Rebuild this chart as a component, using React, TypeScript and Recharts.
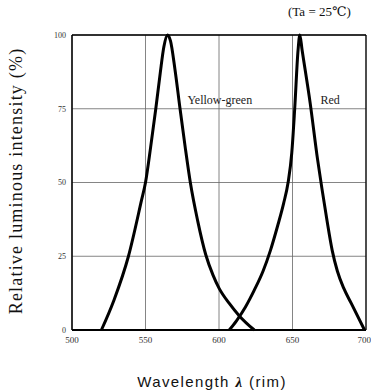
import React from "react";
import {
  LineChart,
  Line,
  XAxis,
  YAxis,
  CartesianGrid,
  ReferenceLine,
  ReferenceDot,
} from "recharts";

// Yellow-green emission curve (wavelength nm, relative intensity %)
const YG_WAVE = [520, 528.6, 538.4, 547.3, 550, 553.5, 557, 560, 562.5, 565, 567, 570, 573.5, 577, 580.5, 585.5, 591, 596, 600, 607, 614, 624];
const YG_VAL = [0, 10.2, 25, 44, 50, 62, 75, 87, 96, 100, 98, 88.5, 75, 62, 50, 37, 25.5, 18.5, 14.2, 9, 4.7, 0];

// Red emission curve
const RED_WAVE = [607, 612, 618, 624, 630, 635, 640, 644, 647, 649.5, 651.5, 653.8, 655, 656.5, 662, 667, 670, 673.5, 677, 680.5, 685, 690, 699];
const RED_VAL = [0, 3.2, 7.8, 13.5, 20, 27, 35.5, 43, 50, 60, 75, 95, 100, 95, 77, 58, 48, 37, 27, 20, 14, 9, 0];

const X_TICKS = [500, 550, 600, 650, 700];
const Y_TICKS = [0, 25, 50, 75, 100];

const SERIF = "'Liberation Serif', 'DejaVu Serif', serif";
const SANS = "'Liberation Sans', Arial, sans-serif";

const ygData = YG_WAVE.map((w, i) => ({ w, v: YG_VAL[i] }));
const redData = RED_WAVE.map((w, i) => ({ w, v: RED_VAL[i] }));

export default function App() {
  return (
    <div
      style={{
        position: "absolute",
        left: 0,
        top: 0,
        width: 371,
        height: 392,
        background: "#fff",
      }}
    >
      <div
        style={{
          position: "absolute",
          left: 288,
          top: 4,
          fontFamily: SERIF,
          fontSize: 13,
          color: "#111",
          whiteSpace: "nowrap",
        }}
      >
        (Ta = 25℃)
      </div>
      <LineChart
        width={371}
        height={392}
        margin={{ top: 35, right: 5, bottom: 0, left: 0 }}
      >
        <CartesianGrid stroke="#666" strokeWidth={0.8} />
        <XAxis
          type="number"
          dataKey="w"
          domain={[500, 700]}
          ticks={X_TICKS}
          allowDataOverflow
          height={62}
          tickLine={false}
          tickSize={3}
          tickMargin={4}
          axisLine={{ stroke: "#000", strokeWidth: 2 }}
          tick={{ fontSize: 9, fill: "#333", fontFamily: SERIF }}
          label={{
            content: () => (
              <text
                x={212}
                y={387}
                textAnchor="middle"
                fontFamily={SANS}
                fontSize={15}
                letterSpacing={1.4}
                fill="#111"
              >
                <tspan>Wavelength </tspan>
                <tspan fontWeight="bold" fontFamily={SERIF} fontStyle="italic">λ</tspan>
                <tspan> (rim)</tspan>
              </text>
            ),
          }}
        />
        <YAxis
          type="number"
          domain={[0, 100]}
          ticks={Y_TICKS}
          width={72}
          tickLine={false}
          tickSize={3}
          tickMargin={3}
          axisLine={{ stroke: "#000", strokeWidth: 1.5 }}
          tick={{ fontSize: 8, fill: "#333", fontFamily: SERIF }}
          label={{
            content: () => (
              <text
                x={16}
                y={181}
                transform="rotate(-90, 16, 181)"
                textAnchor="middle"
                dominantBaseline="central"
                fontFamily={SERIF}
                fontSize={18}
                letterSpacing={1.2}
                fill="#111"
              >
                Relative luminous intensity (%)
              </text>
            ),
          }}
        />
        <ReferenceLine y={100} stroke="#000" strokeWidth={1.5} />
        <ReferenceLine x={700} stroke="#000" strokeWidth={1.2} />
        <Line
          data={ygData}
          dataKey="v"
          type="monotone"
          stroke="#000"
          strokeWidth={3}
          dot={false}
          isAnimationActive={false}
        />
        <Line
          data={redData}
          dataKey="v"
          type="monotone"
          stroke="#000"
          strokeWidth={3}
          dot={false}
          isAnimationActive={false}
        />
        <ReferenceDot
          x={578.5}
          y={78}
          r={0}
          label={{
            value: "Yellow-green",
            position: "right",
            offset: 0,
            fontSize: 12,
            fontFamily: SERIF,
            fill: "#222",
          }}
        />
        <ReferenceDot
          x={669}
          y={78}
          r={0}
          label={{
            value: "Red",
            position: "right",
            offset: 0,
            fontSize: 12,
            fontFamily: SERIF,
            fill: "#222",
          }}
        />
      </LineChart>
    </div>
  );
}
